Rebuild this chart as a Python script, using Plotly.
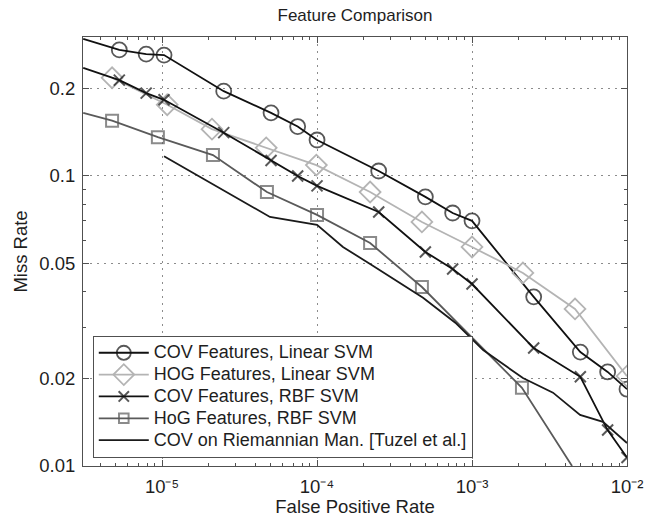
import plotly.graph_objects as go

# False positive rate / miss rate pairs for each detector
fpr_cov_lin = [3.1e-6, 5.3e-6, 7.9e-6, 1.03e-5, 2.5e-5, 5.05e-5, 7.5e-5, 1.0e-4,
               2.5e-4, 5.0e-4, 7.5e-4, 1.0e-3, 2.5e-3, 5.0e-3, 7.5e-3, 1.0e-2]
miss_cov_lin = [0.297, 0.272, 0.263, 0.261, 0.196, 0.165, 0.148, 0.133,
                0.104, 0.0847, 0.0745, 0.070, 0.0383, 0.0247, 0.0211, 0.0184]

fpr_hog_lin = [4.76e-6, 1.08e-5, 2.1e-5, 4.7e-5, 9.9e-5, 2.2e-4,
               4.75e-4, 1.0e-3, 2.13e-3, 4.62e-3, 1.0e-2]
miss_hog_lin = [0.218, 0.176, 0.145, 0.125, 0.109, 0.088,
                0.0694, 0.0569, 0.0463, 0.0348, 0.0204]

fpr_cov_rbf = [3.1e-6, 5.3e-6, 7.9e-6, 1.03e-5, 2.5e-5, 5.05e-5, 7.5e-5, 1.0e-4,
               2.5e-4, 5.0e-4, 7.5e-4, 1.0e-3, 2.5e-3, 5.0e-3, 7.5e-3, 1.0e-2]
miss_cov_rbf = [0.236, 0.214, 0.193, 0.183, 0.141, 0.113, 0.100, 0.0924,
                0.0751, 0.0547, 0.0478, 0.0424, 0.0255, 0.0203, 0.0133, 0.0107]

fpr_hog_rbf = [3.1e-6, 4.76e-6, 9.4e-6, 2.13e-5, 4.75e-5, 1.0e-4,
               2.2e-4, 4.75e-4, 2.1e-3, 4.42e-3]
miss_hog_rbf = [0.165, 0.155, 0.136, 0.118, 0.088, 0.0734,
                0.0587, 0.0414, 0.0186, 0.0100]

fpr_riem = [1.03e-5, 4.97e-5, 1.0e-4, 1.47e-4, 2.2e-4, 4.83e-4, 7.8e-4,
            1.18e-3, 2.13e-3, 3.33e-3, 4.98e-3, 7.0e-3, 1.0e-2]
miss_riem = [0.117, 0.0722, 0.0678, 0.0569, 0.0497, 0.0380, 0.0312,
             0.0251, 0.0201, 0.0179, 0.0150, 0.0142, 0.0120]

names = ["COV Features, Linear SVM", "HOG Features, Linear SVM",
         "COV Features, RBF SVM", "HoG Features, RBF SVM",
         "COV on Riemannian Man. [Tuzel et al.]"]

x_ticks = [1e-5, 1e-4, 1e-3, 1e-2]
x_ticktext = ["10\u207b\u2075", "10\u207b\u2074", "10\u207b\u00b3", "10\u207b\u00b2"]
y_ticks = [0.01, 0.02, 0.05, 0.1, 0.2]
y_ticktext = ["0.01", "0.02", "0.05", "0.1", "0.2"]

FONT = "Liberation Sans, Arial, Helvetica, sans-serif"
TEXT = "#1e1e1e"
AXIS = "#505050"
GRID_DASH = "2px,5px"


def edge_sizes(xs, size, ends=()):
    # points sitting on the axis border carry only the line, no marker
    return [0 if i in ends else size for i in range(len(xs))]


def legend_label(text):
    # legend rows are spaced tighter than the label glyph size
    return '<span style="font-size:18px">' + text + "</span>"


fig = go.Figure()

fig.add_trace(go.Scatter(
    x=fpr_cov_lin, y=miss_cov_lin, name=legend_label(names[0]),
    mode="lines+markers", line=dict(color="#111111", width=1.8),
    marker=dict(symbol="circle-open", size=edge_sizes(fpr_cov_lin, 15, (0,)),
                color="#111111", line=dict(width=1.8))))

fig.add_trace(go.Scatter(
    x=fpr_hog_lin, y=miss_hog_lin, name=legend_label(names[1]),
    mode="lines+markers", line=dict(color="#b4b4b4", width=1.8),
    marker=dict(symbol="diamond-open", size=16, color="#b4b4b4",
                line=dict(width=1.8))))

fig.add_trace(go.Scatter(
    x=fpr_cov_rbf, y=miss_cov_rbf, name=legend_label(names[2]),
    mode="lines+markers", line=dict(color="#111111", width=1.8),
    marker=dict(symbol="x-thin-open", size=edge_sizes(fpr_cov_rbf, 11, (0,)),
                color="#111111", line=dict(width=2))))

fig.add_trace(go.Scatter(
    x=fpr_hog_rbf, y=miss_hog_rbf, name=legend_label(names[3]),
    mode="lines+markers", line=dict(color="#5a5a5a", width=1.8),
    marker=dict(symbol="square-open",
                size=edge_sizes(fpr_hog_rbf, 12, (0, len(fpr_hog_rbf) - 1)),
                color="#5a5a5a", line=dict(width=2))))

fig.add_trace(go.Scatter(
    x=fpr_riem, y=miss_riem, name=legend_label(names[4]),
    mode="lines", line=dict(color="#1a1a1a", width=1.8)))

x_minor = [m * 10.0 ** e for e in range(-6, -2) for m in range(2, 10)]
y_minor = [m * 10.0 ** e for e in (-2, -1) for m in range(2, 10)]

fig.update_layout(
    width=654, height=517,
    margin=dict(l=83, r=27, t=37, b=51),
    paper_bgcolor="white", plot_bgcolor="white",
    font=dict(family=FONT, size=18, color=TEXT),
    title=dict(text="Feature Comparison", x=0.5, xref="paper",
               y=1 - 15 / 517, yref="container", yanchor="middle",
               font=dict(size=17, color=TEXT)),
    showlegend=True,
    legend=dict(x=0.018, y=0.019, xanchor="left", yanchor="bottom",
                bgcolor="white", bordercolor=AXIS, borderwidth=1,
                font=dict(size=14.5, color=TEXT),
                tracegroupgap=0, itemwidth=50),
)

fig.update_xaxes(
    type="log", range=[-5.51, -2.0], automargin=False,
    tickvals=x_ticks, ticktext=x_ticktext,
    ticks="inside", ticklen=6, tickcolor=AXIS, ticklabelstandoff=4,
    showline=True, linecolor=AXIS, linewidth=1, mirror="ticks",
    showgrid=True, gridcolor="#8c8c8c", griddash=GRID_DASH, gridwidth=1,
    minor=dict(tickvals=x_minor, ticks="inside", ticklen=3,
               tickcolor=AXIS, showgrid=False),
    zeroline=False,
    title=dict(text="False Positive Rate", standoff=6,
               font=dict(size=18.5, color=TEXT)),
    tickfont=dict(size=18.5, color=TEXT),
)

fig.update_yaxes(
    type="log", range=[-2.0, -0.521], automargin=False,
    tickvals=y_ticks, ticktext=y_ticktext,
    ticks="inside", ticklen=6, tickcolor=AXIS, ticklabelstandoff=3,
    showline=True, linecolor=AXIS, linewidth=1, mirror="ticks",
    showgrid=True, gridcolor="#8c8c8c", griddash=GRID_DASH, gridwidth=1,
    minor=dict(tickvals=y_minor, ticks="inside", ticklen=3,
               tickcolor=AXIS, showgrid=False),
    zeroline=False,
    title=dict(text="Miss Rate", standoff=6,
               font=dict(size=18.5, color=TEXT)),
    tickfont=dict(size=18.5, color=TEXT),
)

fig.write_html("out.html")
